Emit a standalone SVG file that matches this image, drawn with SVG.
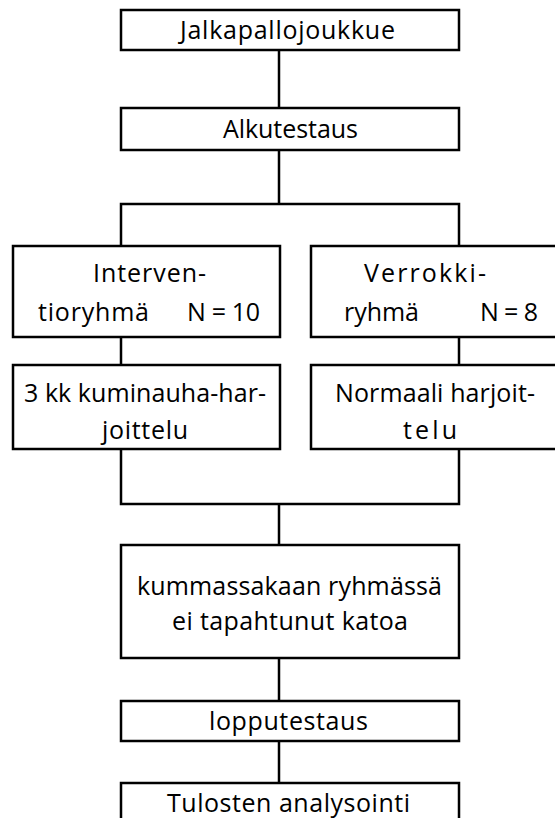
<svg xmlns="http://www.w3.org/2000/svg" width="555" height="818" viewBox="0 0 555 818">
<style>
.box{fill:#fff;stroke:#000;stroke-width:2.5}
.ln{fill:none;stroke:#000;stroke-width:2.5}
text{font-family:"Open Sans","Noto Sans",sans-serif;font-size:25px;fill:#000}
</style>
<rect width="555" height="818" fill="#fff"/>
<g id="connectors">
<path class="ln" d="M279,50V108"/>
<path class="ln" d="M279,150V204M121,246V204H459V246"/>
<path class="ln" d="M121,337V365M459,337V365"/>
<path class="ln" d="M121,449V504H459V449M279,504V545"/>
<path class="ln" d="M279,658V701"/>
<path class="ln" d="M279,741V783"/>
</g>
<g id="n1"><rect class="box" x="121" y="10" width="338" height="40"/><text x="180" y="39" textLength="215" lengthAdjust="spacing">Jalkapallojoukkue</text></g>
<g id="n2"><rect class="box" x="121" y="108" width="338" height="42"/><text x="223" y="138" textLength="135" lengthAdjust="spacing">Alkutestaus</text></g>
<g id="n3"><rect class="box" x="13" y="246" width="267" height="91"/><text x="93" y="282" textLength="113" lengthAdjust="spacing">Interven-</text><text y="321"><tspan x="38" textLength="111" lengthAdjust="spacing">tioryhmä</tspan><tspan x="187" textLength="73" lengthAdjust="spacing">N = 10</tspan></text></g>
<g id="n4"><rect class="box" x="311" y="246" width="300" height="91"/><text x="364" y="282" textLength="122" lengthAdjust="spacing">Verrokki-</text><text y="321"><tspan x="344" textLength="75" lengthAdjust="spacing">ryhmä</tspan><tspan x="480" textLength="58" lengthAdjust="spacing">N = 8</tspan></text></g>
<g id="n5"><rect class="box" x="13" y="365" width="267" height="84"/><text x="24" y="402" textLength="242" lengthAdjust="spacing">3 kk kuminauha-har-</text><text x="102" y="439" textLength="86" lengthAdjust="spacing">joittelu</text></g>
<g id="n6"><rect class="box" x="311" y="365" width="300" height="84"/><text x="335" y="402" textLength="200" lengthAdjust="spacing">Normaali harjoit-</text><text x="403" y="439" textLength="54" lengthAdjust="spacing">telu</text></g>
<g id="n7"><rect class="box" x="121" y="545" width="338" height="113"/><text x="137" y="595" textLength="305" lengthAdjust="spacing">kummassakaan ryhmässä</text><text x="172" y="630" textLength="236" lengthAdjust="spacing">ei tapahtunut katoa</text></g>
<g id="n8"><rect class="box" x="121" y="701" width="338" height="40"/><text x="209" y="730" textLength="159" lengthAdjust="spacing">lopputestaus</text></g>
<g id="n9"><rect class="box" x="121" y="783" width="338" height="60"/><text x="167" y="812" textLength="243" lengthAdjust="spacing">Tulosten analysointi</text></g>
</svg>
